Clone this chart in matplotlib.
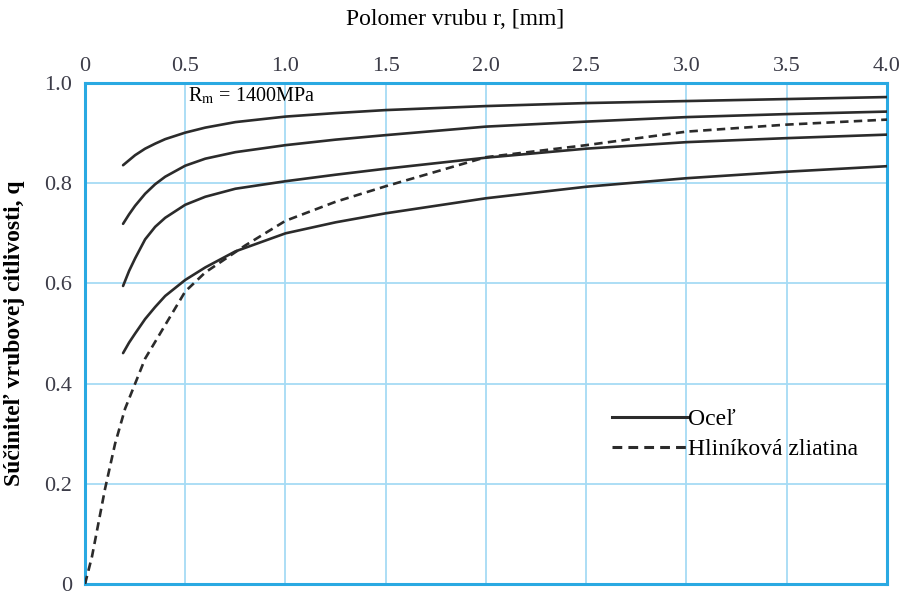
import matplotlib
matplotlib.use('Agg')
import matplotlib.pyplot as plt
from matplotlib.lines import Line2D

plt.rcParams['font.family'] = ['Liberation Serif', 'DejaVu Serif']
plt.rcParams['mathtext.fontset'] = 'stix'

# Ocel' - four curves
r_steel = [0.19, 0.22, 0.25, 0.3, 0.35, 0.4, 0.5, 0.6, 0.75, 1.0, 1.25, 1.5, 2.0, 2.5, 3.0, 3.5, 4.0]
q_steel_1 = [0.836, 0.846, 0.856, 0.869, 0.879, 0.888, 0.901, 0.911, 0.922, 0.933, 0.940, 0.946, 0.954, 0.960, 0.964, 0.968, 0.972]
q_steel_2 = [0.719, 0.738, 0.755, 0.779, 0.798, 0.813, 0.835, 0.849, 0.862, 0.876, 0.887, 0.896, 0.913, 0.923, 0.932, 0.938, 0.943]
q_steel_3 = [0.595, 0.625, 0.650, 0.688, 0.713, 0.731, 0.757, 0.773, 0.789, 0.804, 0.817, 0.829, 0.851, 0.869, 0.882, 0.890, 0.897]
q_steel_4 = [0.461, 0.482, 0.500, 0.529, 0.553, 0.575, 0.607, 0.632, 0.664, 0.700, 0.722, 0.740, 0.770, 0.793, 0.810, 0.823, 0.834]

# Hlinikova zliatina
r_al = [0.0, 0.035, 0.1, 0.15, 0.2, 0.25, 0.3, 0.4, 0.5, 0.6, 0.8, 1.0, 1.25, 1.5, 2.0, 2.5, 3.0, 3.5, 4.0]
q_al = [0.0, 0.055, 0.19, 0.28, 0.35, 0.40, 0.45, 0.517, 0.584, 0.622, 0.676, 0.725, 0.763, 0.794, 0.852, 0.876, 0.903, 0.917, 0.927]

x_ticks = [0, 0.5, 1.0, 1.5, 2.0, 2.5, 3.0, 3.5, 4.0]
x_labels = ['0', '0.5', '1.0', '1.5', '2.0', '2.5', '3.0', '3.5', '4.0']
y_ticks = [0, 0.2, 0.4, 0.6, 0.8, 1.0]
y_labels = ['0', '0.2', '0.4', '0.6', '0.8', '1.0']

line_col = '#2b2b2b'
tick_col = '#3c3c48'
dash = (0, (3.2, 2.0))

fig = plt.figure(figsize=(9.06, 5.96), dpi=100)
ax = fig.add_axes([0.0938, 0.02, 0.8852, 0.8407])

for q in [q_steel_1, q_steel_2, q_steel_3, q_steel_4]:
    ax.plot(r_steel, q, color=line_col, lw=1.9, solid_capstyle='round', zorder=3)
ax.plot(r_al, q_al, color=line_col, lw=1.9, ls=dash, zorder=3)

ax.set_xlim(0, 4.0)
ax.set_ylim(0, 1.0)
ax.xaxis.tick_top()
ax.xaxis.set_label_position('top')
ax.set_xticks(x_ticks)
ax.set_xticklabels(x_labels)
ax.set_yticks(y_ticks)
ax.set_yticklabels(y_labels)
ax.tick_params(length=0, labelsize=16, colors=tick_col)
ax.tick_params(axis='x', pad=5)
ax.tick_params(axis='y', pad=9)

ax.grid(True, color='#a6dbf5', lw=1.3)
ax.set_axisbelow(True)
for s in ax.spines.values():
    s.set_color('#2aa9e2')
    s.set_linewidth(2.2)

ax.set_xlabel('Polomer vrubu r, [mm]', fontsize=17)
ax.xaxis.set_label_coords(0.461, 1.115)
ax.set_ylabel('Súčiniteľ vrubovej citlivosti, q', fontsize=17, fontweight='bold', labelpad=14)

ax.text(0.515, 0.974, r'R$_\mathrm{m}$ = 1400MPa', fontsize=14.5, va='center', ha='left')

handles = [Line2D([], [], color=line_col, lw=2.2),
           Line2D([], [], color=line_col, lw=2.2, ls=dash)]
ax.legend(handles, ['Oceľ', 'Hliníková zliatina'], loc='upper left',
          bbox_to_anchor=(0.643, 0.374), frameon=False, fontsize=17,
          handlelength=3.2, handletextpad=0.0, labelspacing=0.35, borderpad=0)

fig.savefig('out.png', dpi=100)
